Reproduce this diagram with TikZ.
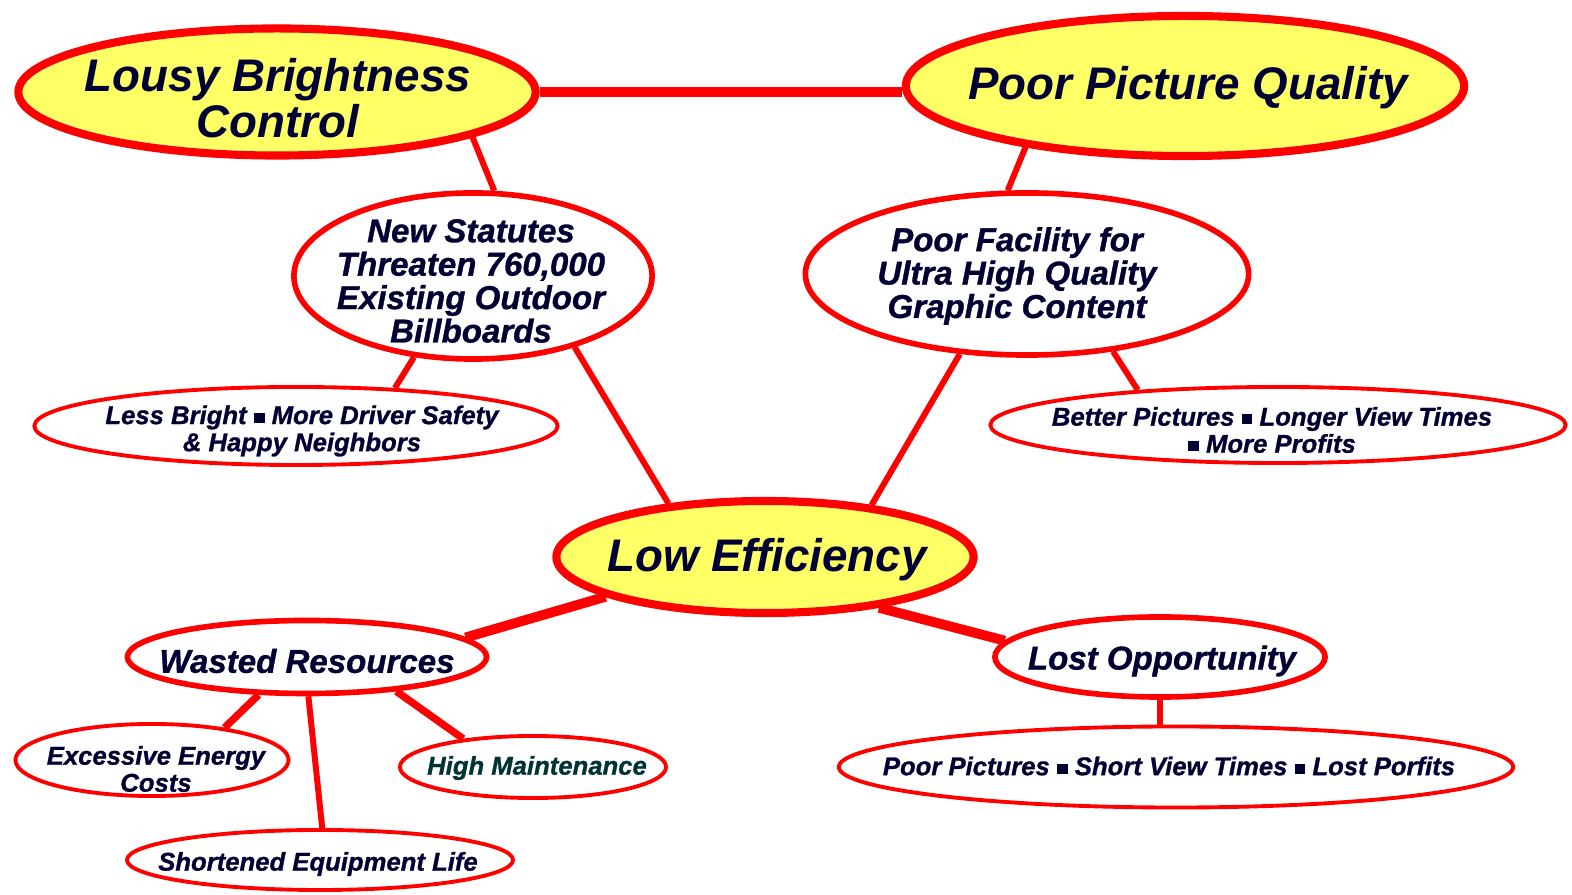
\documentclass[tikz,border=0pt]{standalone}
\usepackage{fontspec}
\setmainfont{Liberation Sans}
\newfontfamily\heavyfont{Liberation Sans}[FakeBold=1]
\usetikzlibrary{shapes.geometric,backgrounds}
\definecolor{ired}{RGB}{255,0,0}
\definecolor{iyel}{RGB}{255,255,102}
\definecolor{inavy}{RGB}{0,0,51}
\definecolor{iteal}{RGB}{0,51,51}
\newcommand{\sqsep}{\rule[0.05em]{0.42em}{0.4em}}
\begin{document}
\begin{tikzpicture}[x=0.01cm,y=-0.01cm,
  ell/.style={ellipse, draw=ired, inner sep=0pt},
  bigell/.style={ell, fill=iyel, line width=2.3pt},
  midell/.style={ell, fill=white, line width=1.6pt},
  smell/.style={ell, fill=white, line width=1.1pt},
  bigtxt/.style={inner sep=0pt, align=center, text=inavy, font=\fontsize{13}{13}\selectfont\bfseries\itshape},
  midtxt/.style={inner sep=0pt, align=center, text=inavy, font=\heavyfont\fontsize{9.4}{9.5}\selectfont\bfseries\itshape},
  smtxt/.style={inner sep=0pt, align=center, text=inavy, font=\heavyfont\fontsize{7.3}{7.7}\selectfont\bfseries\itshape},
  link/.style={draw=ired, line width=1.7pt},
  heavylink/.style={draw=ired, line width=2.8pt}]
\useasboundingbox (0,0) rectangle (1572,895);

% ellipses
\node[bigell, minimum width=5.17cm, minimum height=1.27cm] (lb) at (277,92) {};
\node[bigell, minimum width=5.58cm, minimum height=1.40cm] (ppq) at (1185,86) {};
\node[bigell, minimum width=4.17cm, minimum height=1.12cm] (le) at (765,557) {};
\node[midell, minimum width=3.58cm, minimum height=1.66cm] (ns) at (473,276) {};
\node[midell, minimum width=4.43cm, minimum height=1.62cm] (pf) at (1027,274) {};
\node[midell, minimum width=3.59cm, minimum height=0.73cm] (wr) at (307,657) {};
\node[midell, minimum width=3.30cm, minimum height=0.80cm] (lo) at (1160,657) {};
\node[smell, minimum width=5.23cm, minimum height=0.78cm] (lbs) at (296,426) {};
\node[smell, minimum width=5.75cm, minimum height=0.76cm] (bp) at (1278,425) {};
\node[smell, minimum width=2.73cm, minimum height=0.72cm] (ee) at (152,760) {};
\node[smell, minimum width=2.66cm, minimum height=0.62cm] (hm) at (533,767) {};
\node[smell, minimum width=3.86cm, minimum height=0.60cm] (se) at (320,860) {};
\node[smell, minimum width=6.74cm, minimum height=0.81cm] (pp) at (1176,767) {};

% connectors
\begin{pgfonlayer}{background}
\path[heavylink] (lb.east) -- (lb.east -| ppq.west);
\path[link] (lb.-13) -- (ns.76);
\path[link] (ppq.-159) -- (pf.103);
\path[link] (ns.-126) -- (lbs.21);
\path[link] (ns.-35) -- (le.151);
\path[link] (pf.-130) -- (le.26);
\path[link] (pf.-42) -- (bp.166);
\path[heavylink] (le.-166) -- (wr.7);
\path[heavylink] (le.-24) -- (lo.174);
\path[link, line width=2.1pt] (wr.-142) -- (ee.24);
\path[link] (wr.-88) -- (se.86);
\path[link, line width=2.1pt] (wr.-21) -- (hm.158);
\path[link] (lo.south) -- (lo.south |- pp.north);
\end{pgfonlayer}

% texts
\node[bigtxt] (lbt) at (278,98) {Lousy Brightness\\Control};
\node[bigtxt] (ppqt) at (1188,88) {Poor Picture Quality};
\node[bigtxt] (let) at (767,560) {Low Efficiency};
\node[midtxt] (nst) at (471,281) {New Statutes\\Threaten 760,000\\Existing Outdoor\\Billboards};
\node[midtxt] (pft) at (1017,276) {Poor Facility for\\Ultra High Quality\\Graphic Content};
\node[midtxt] (wrt) at (307,661) {Wasted Resources};
\node[midtxt] (lot) at (1162,661) {Lost Opportunity};
\node[smtxt] (lbst) at (302,431) {Less Bright \sqsep{} More Driver Safety\\\& Happy Neighbors};
\node[smtxt] (bpt) at (1272,430) {Better Pictures \sqsep{} Longer View Times\\\sqsep{} More Profits};
\node[smtxt] (eet) at (156,769) {Excessive Energy\\Costs};
\node[smtxt, text=iteal] (hmt) at (537,768) {High Maintenance};
\node[smtxt] (set) at (318,864) {Shortened Equipment Life};
\node[smtxt] (ppt) at (1169,766) {Poor Pictures \sqsep{} Short View Times \sqsep{} Lost Porfits};
\end{tikzpicture}
\end{document}
